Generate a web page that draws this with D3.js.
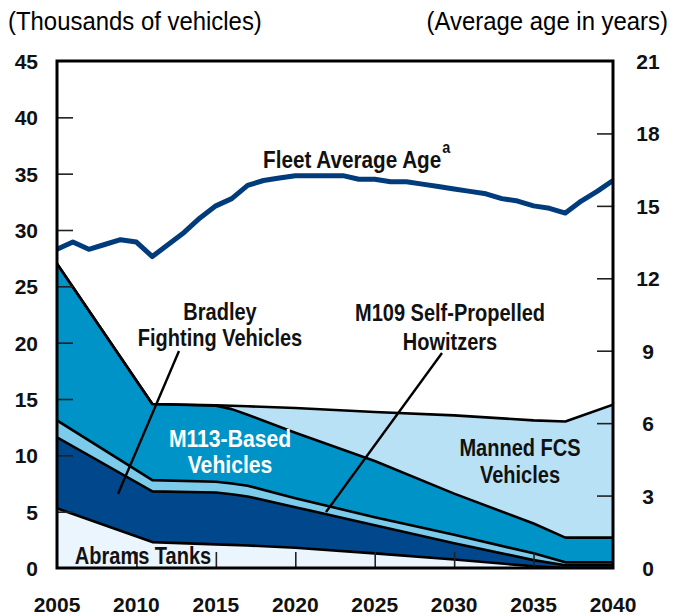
<!DOCTYPE html>
<html>
<head>
<meta charset="utf-8">
<script src="https://cdn.jsdelivr.net/npm/d3@7"></script>
<style>
  body { margin: 0; background: #fff; }
  text { font-family: "Liberation Sans", Arial, sans-serif; }
  .tick-label { font-weight: bold; font-size: 21px; fill: #111; }
  .label { font-weight: bold; font-size: 23px; }
</style>
</head>
<body>
<div id="chart"></div>
<script>
/* Data
======================================================================= */
var years = [2005, 2011, 2015, 2016, 2017, 2020, 2025, 2030, 2035, 2037, 2040],
    abrams = [5.3, 2.3, 2.1, 2.05, 2.0, 1.8, 1.3, 0.75, 0.15, 0, 0],
    bradley = [6.3, 4.5, 4.6, 4.5, 4.35, 3.6, 2.5, 1.45, 0.55, 0.25, 0.25],
    m109 = [1.5, 1.0, 0.95, 0.95, 0.95, 0.8, 0.7, 0.75, 0.6, 0.25, 0.25],
    m113 = [13.9, 6.75, 6.75, 6.6, 6.3, 5.8, 5.0, 3.65, 2.65, 2.2, 2.2],
    fcs = [0, 0, 0.05, 0.3, 0.75, 2.2, 4.35, 6.95, 9.15, 10.3, 11.8];

// Fleet average age, one value per year 2005-2040
var ageYears = d3.range(2005, 2041),
    avgAge = [13.2, 13.5, 13.2, 13.4, 13.6, 13.5, 12.9, 13.4, 13.9, 14.5,
              15.0, 15.3, 15.85, 16.05, 16.15, 16.25, 16.25, 16.25, 16.25, 16.1,
              16.1, 16.0, 16.0, 15.9, 15.8, 15.7, 15.6, 15.5, 15.3, 15.2,
              15.0, 14.9, 14.7, 15.2, 15.6, 16.05];

var xTicks = [2005, 2010, 2015, 2020, 2025, 2030, 2035, 2040],
    leftTicks = [0, 5, 10, 15, 20, 25, 30, 35, 40, 45],
    rightTicks = [0, 3, 6, 9, 12, 15, 18, 21];

var keys = ['abrams', 'bradley', 'm109', 'm113', 'fcs'],
    colors = {
      abrams: '#eaf5fd',
      bradley: '#00488b',
      m109: '#7ccbeb',
      m113: '#0093c8',
      fcs: '#b8e1f6'
    };

/* Layout
======================================================================= */
var W = 674, H = 616,
    plotL = 57, plotR = 613, plotT = 61, plotB = 568;

var svg = d3.select('#chart').append('svg')
  .attr('width', W)
  .attr('height', H);

var x = d3.scaleLinear().domain([2005, 2040]).range([plotL, plotR]),
    yL = d3.scaleLinear().domain([0, 45]).range([plotB, plotT]),
    yR = d3.scaleLinear().domain([0, 21]).range([plotB, plotT]);

// Build table for the stack
var table = years.map(function(yr, i) {
  return { year: yr, abrams: abrams[i], bradley: bradley[i], m109: m109[i], m113: m113[i], fcs: fcs[i] };
});

var series = d3.stack().keys(keys)(table);

svg.append('clipPath').attr('id', 'plot-clip')
  .append('rect')
    .attr('x', plotL).attr('y', plotT)
    .attr('width', plotR - plotL).attr('height', plotB - plotT);

var plot = svg.append('g').attr('clip-path', 'url(#plot-clip)');

var area = d3.area()
  .x(function(d) { return x(d.data.year); })
  .y0(function(d) { return yL(d[0]); })
  .y1(function(d) { return yL(d[1]); });

var edge = d3.line()
  .x(function(d) { return x(d.data.year); })
  .y(function(d) { return yL(d[1]); });

// Filled layers
plot.selectAll('path.layer')
  .data(series)
  .enter().append('path')
    .attr('class', 'layer')
    .attr('fill', function(d) { return colors[d.key]; })
    .attr('d', area);

// Black boundaries between layers
plot.selectAll('path.edge')
  .data(series)
  .enter().append('path')
    .attr('class', 'edge')
    .attr('fill', 'none')
    .attr('stroke', '#000')
    .attr('stroke-width', 2.6)
    .attr('stroke-linejoin', 'round')
    .attr('d', edge);

/* Ticks (inside the frame)
======================================================================= */
var tickLen = 16;

function styleTicks(g) {
  g.select('.domain').remove();
  g.selectAll('line').attr('stroke', '#222').attr('stroke-width', 1.6);
}

svg.append('g')
  .attr('transform', 'translate(' + plotL + ',0)')
  .call(d3.axisRight(yL).tickValues(leftTicks.slice(1, -1)).tickSize(tickLen).tickFormat(''))
  .call(styleTicks);

svg.append('g')
  .attr('transform', 'translate(' + plotR + ',0)')
  .call(d3.axisLeft(yR).tickValues(rightTicks.slice(1, -1)).tickSize(tickLen).tickFormat(''))
  .call(styleTicks);

svg.append('g')
  .attr('transform', 'translate(0,' + plotB + ')')
  .call(d3.axisTop(x).tickValues(xTicks.slice(1, -1)).tickSize(tickLen).tickFormat(''))
  .call(styleTicks);

// Tick labels
svg.selectAll('text.yl')
  .data(leftTicks)
  .enter().append('text')
    .attr('class', 'tick-label yl')
    .attr('x', 38)
    .attr('y', function(d) { return yL(d) + 8; })
    .attr('text-anchor', 'end')
    .text(function(d) { return d; });

svg.selectAll('text.yr')
  .data(rightTicks)
  .enter().append('text')
    .attr('class', 'tick-label yr')
    .attr('x', 648)
    .attr('y', function(d) { return yR(d) + 8; })
    .attr('text-anchor', 'middle')
    .text(function(d) { return d; });

svg.selectAll('text.xl')
  .data(xTicks)
  .enter().append('text')
    .attr('class', 'tick-label xl')
    .attr('x', function(d) { return x(d); })
    .attr('y', 612)
    .attr('text-anchor', 'middle')
    .text(function(d) { return d; });

/* Fleet average age line
======================================================================= */
var ageLine = d3.line()
  .x(function(d, i) { return x(ageYears[i]); })
  .y(function(d) { return yR(d); });

plot.append('path')
  .datum(avgAge)
  .attr('fill', 'none')
  .attr('stroke', '#003b7c')
  .attr('stroke-width', 5)
  .attr('stroke-linejoin', 'round')
  .attr('d', ageLine);

// Frame
svg.append('rect')
  .attr('x', plotL).attr('y', plotT)
  .attr('width', plotR - plotL).attr('height', plotB - plotT)
  .attr('fill', 'none')
  .attr('stroke', '#000')
  .attr('stroke-width', 3);

/* Titles and labels
======================================================================= */
// Text is squeezed horizontally to mimic the condensed face of the original
function squeezed(px, py, sx, anchor) {
  return svg.append('g')
    .attr('transform', 'translate(' + px + ',' + py + ') scale(' + sx + ',1)')
    .append('text')
      .attr('text-anchor', anchor || 'start');
}

squeezed(8, 30, 0.92).style('font-size', '26px').text('(Thousands of vehicles)');
squeezed(668, 30, 0.92, 'end').style('font-size', '26px').text('(Average age in years)');

function label(lines, cx, y0, fill, lh, sx) {
  var t = squeezed(cx, y0, sx || 0.87, 'middle')
    .attr('class', 'label')
    .attr('fill', fill);
  lines.forEach(function(s, i) {
    t.append('tspan').attr('x', 0).attr('y', i * (lh || 27)).text(s);
  });
  return t;
}

var fleet = squeezed(263, 168, 0.9).attr('class', 'label').attr('fill', '#111');
fleet.append('tspan').text('Fleet Average Age');
fleet.append('tspan').attr('dx', 1).attr('dy', -15).style('font-size', '16px').text('a');

label(['Bradley', 'Fighting Vehicles'], 220, 320, '#111', 26);
label(['M109 Self-Propelled', 'Howitzers'], 450, 321, '#111', 29);
label(['M113-Based', 'Vehicles'], 230, 447, '#fff', 26, 0.92);
label(['Manned FCS', 'Vehicles'], 520, 456, '#111', 27);
label(['Abrams Tanks'], 143, 564, '#111');

// Pointer lines
svg.append('line')
  .attr('x1', 179).attr('y1', 351).attr('x2', 118).attr('y2', 494)
  .attr('stroke', '#000').attr('stroke-width', 2.4);

svg.append('line')
  .attr('x1', 442).attr('y1', 353).attr('x2', 326).attr('y2', 512)
  .attr('stroke', '#000').attr('stroke-width', 2.4);
</script>
</body>
</html>
